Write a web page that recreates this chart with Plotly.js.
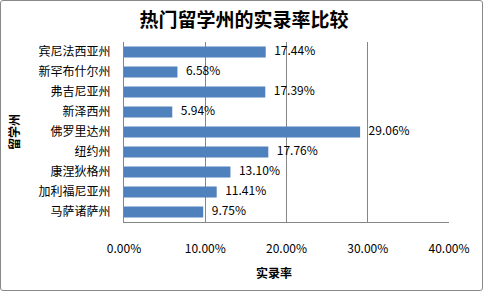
<!DOCTYPE html>
<html>
<head>
<meta charset="utf-8">
<script src="https://cdn.plot.ly/plotly-3.0.1.min.js"></script>
<style>
html,body{margin:0;padding:0;background:#fff;}
#wrap{position:relative;width:483px;height:291px;}
#frame{position:absolute;left:0;top:0;width:483px;height:291px;box-sizing:border-box;border:1px solid #888;border-radius:3px;pointer-events:none;}
</style>
</head>
<body>
<div id="wrap"><div id="chart"></div><div id="frame"></div></div>
<script>
const categories = ["宾尼法西亚州","新罕布什尔州","弗吉尼亚州","新泽西州","佛罗里达州","纽约州","康涅狄格州","加利福尼亚州","马萨诸萨州"];
const rates = [17.44, 6.58, 17.39, 5.94, 29.06, 17.76, 13.10, 11.41, 9.75];
const xTickVals = [0, 10, 20, 30, 40];
const xTickText = ["0.00%","10.00%","20.00%","30.00%","40.00%"];
const chartTitle = "热门留学州的实录率比较";
const xTitle = "实录率";
const yTitle = "留学州";

const font = '"Noto Sans CJK SC", "Noto Sans", sans-serif';

const bars = {
  type: 'bar',
  orientation: 'h',
  y: categories,
  x: rates,
  marker: {color: '#4F81BD'},
  hoverinfo: 'none'
};

const labels = {
  type: 'scatter',
  mode: 'markers+text',
  y: categories,
  x: rates,
  marker: {size: 12, opacity: 0},
  text: rates.map(v => v.toFixed(2) + '%'),
  textposition: 'middle right',
  cliponaxis: false,
  textfont: {family: font, size: 12, color: '#000'},
  hoverinfo: 'none'
};

const layout = {
  width: 483, height: 291,
  margin: {l: 124, r: 34, t: 42, b: 69},
  paper_bgcolor: '#fff', plot_bgcolor: '#fff',
  font: {family: font, size: 12, color: '#000'},
  showlegend: false,
  bargap: 0.45,
  title: {text: '<b>' + chartTitle + '</b>', font: {family: font, size: 19, color: '#000'}, x: 0.505, xanchor: 'center', y: 0.93, yanchor: 'middle'},
  xaxis: {
    range: [0, 40], tickvals: xTickVals, ticktext: xTickText,
    showgrid: true, gridcolor: '#868686', gridwidth: 1,
    showline: true, linecolor: '#868686', linewidth: 1,
    zeroline: false, ticks: '', ticklabelstandoff: 16,
    tickfont: {family: font, size: 12, color: '#000'},
    fixedrange: true
  },
  yaxis: {
    range: [categories.length - 0.5, -0.5], showgrid: false,
    showline: true, linecolor: '#868686', linewidth: 1,
    ticks: '', ticklabelstandoff: 10,
    tickfont: {family: font, size: 12, color: '#000'},
    fixedrange: true
  },
  annotations: [
    {text: '<b>' + xTitle + '</b>', xref: 'paper', yref: 'paper', x: (274-124)/325, y: -(272-222)/180, xanchor: 'center', yanchor: 'middle', showarrow: false, font: {family: font, size: 12, color: '#000'}},
    {text: '<b>' + yTitle + '</b>', xref: 'paper', yref: 'paper', x: (13-124)/325, y: 0.5, xanchor: 'center', yanchor: 'middle', textangle: -90, showarrow: false, font: {family: font, size: 12, color: '#000'}}
  ]
};

Plotly.newPlot('chart', [bars, labels], layout, {displayModeBar: false, staticPlot: true});
</script>
</body>
</html>
